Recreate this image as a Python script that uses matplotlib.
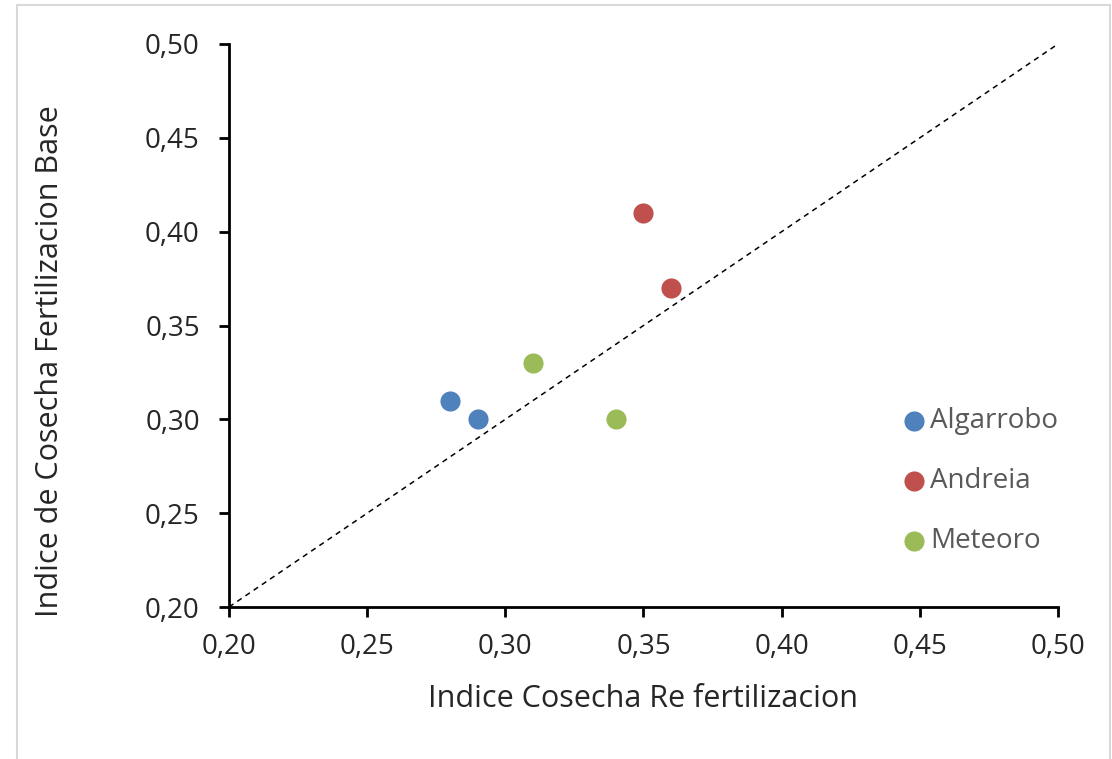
import matplotlib.pyplot as plt
from matplotlib.patches import Rectangle
from matplotlib.ticker import FuncFormatter

plt.rcParams['font.family'] = ['Open Sans', 'DejaVu Sans']

varieties = ["Algarrobo", "Andreia", "Meteoro"]
colors = ["#4F81BD", "#C0504D", "#9BBB59"]
x_refert = [[0.28, 0.29], [0.35, 0.36], [0.31, 0.34]]
y_base = [[0.31, 0.30], [0.41, 0.37], [0.33, 0.30]]
ticks = [0.20, 0.25, 0.30, 0.35, 0.40, 0.45, 0.50]

fig = plt.figure(figsize=(11.12, 7.59), dpi=100)
ax = fig.add_axes([229 / 1112, 1 - 607 / 759, 829 / 1112, 563 / 759])

# light frame around the chart area
fig.patches.append(Rectangle((17 / 1112, -0.01), (1110 - 17) / 1112, 1 - 5 / 759 + 0.01,
                             transform=fig.transFigure, fill=False,
                             edgecolor="#d9d9d9", linewidth=1.5))

ax.plot([0.2, 0.5], [0.2, 0.5], color="black", linestyle=(0, (3.5, 3)), linewidth=1.1, zorder=1)

for name, c, xs, ys in zip(varieties, colors, x_refert, y_base):
    ax.scatter(xs, ys, s=210, color=c, label=name, zorder=3, linewidths=0)

ax.set_xlim(0.2, 0.5)
ax.set_ylim(0.2, 0.5)
ax.set_xticks(ticks)
ax.set_yticks(ticks)
fmt = FuncFormatter(lambda v, p: f"{v:.2f}".replace(".", ","))
ax.xaxis.set_major_formatter(fmt)
ax.yaxis.set_major_formatter(fmt)
ax.tick_params(labelsize=20, length=7, width=2, colors="black", labelcolor="#262626")
ax.tick_params(axis="y", pad=14)
ax.tick_params(axis="x", pad=12)
for s in ["top", "right"]:
    ax.spines[s].set_visible(False)
for s in ["left", "bottom"]:
    ax.spines[s].set_linewidth(2)

ax.set_xlabel("Indice Cosecha Re fertilizacion", fontsize=22, color="#262626", labelpad=16)
ax.set_ylabel("Indice de Cosecha Fertilizacion Base", fontsize=22, color="#262626")
ax.yaxis.set_label_coords(-0.198, 0.437)

leg = ax.legend(loc="upper left", bbox_to_anchor=(0.794, 0.375), frameon=False,
                fontsize=20, handletextpad=0.05, labelspacing=1.15,
                borderaxespad=0, handlelength=1.1)
for t in leg.get_texts():
    t.set_color("#595959")

fig.savefig("out.png", dpi=100)
